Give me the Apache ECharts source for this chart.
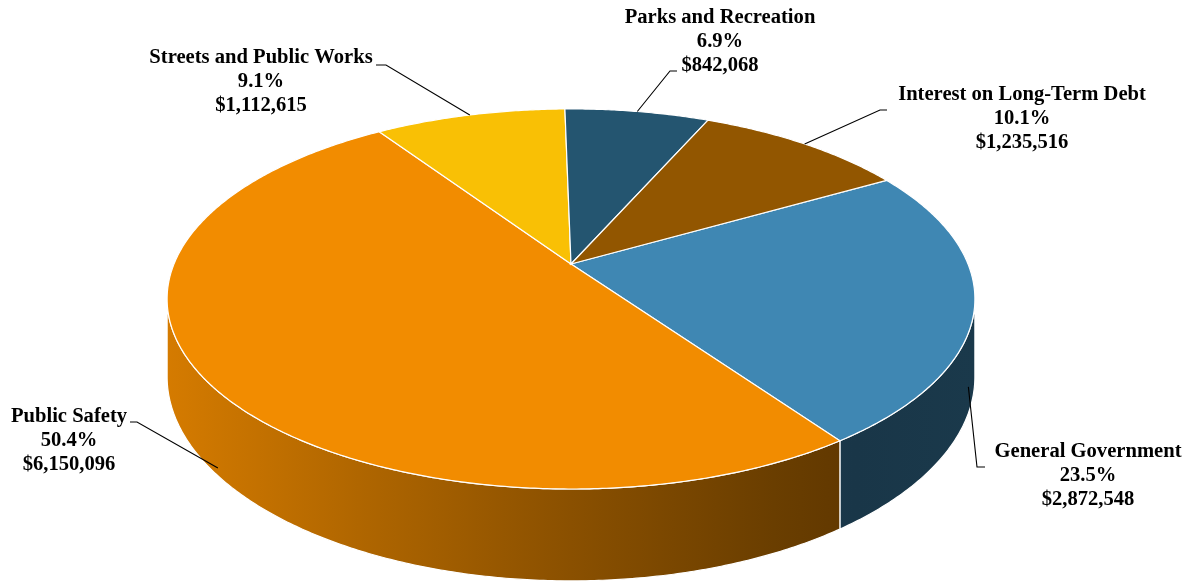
<!DOCTYPE html>
<html><head><meta charset="utf-8">
<script src="https://cdn.jsdelivr.net/npm/echarts@6/dist/echarts.min.js"></script>
<style>html,body{margin:0;padding:0;background:#fff}#c{width:1193px;height:582px}</style>
</head><body><div id="c"></div><script>
// ---- data ----
const categories = ['General Government', 'Public Safety', 'Streets and Public Works', 'Parks and Recreation', 'Interest on Long-Term Debt'];
const values = [2872548, 6150096, 1112615, 842068, 1235516];
// ---- style / layout ----
const colors = ['#3f87b3', '#f28c00', '#f9c005', '#245570', '#925600'];
const startAngle = 60.2; // degrees clockwise from 12 o'clock
const G = { cx: 571, cy: 264, A: 397, B: 183.6, k: 0.184, H: 75 };
const labelPos = [[1088, 452], [69, 417], [261, 58], [720, 18], [1022, 95]];
const attachPt = [[985, 467], [130, 422], [376, 65], [677, 71], [887, 110]];
const elbowPt = [[977, 467], [137, 422], [386, 65], [670, 71], [880, 110]];
const anchorRF = [[0.985, 1.05], [0.97, 1.1], [1, 0], [1, 0], [1, 0]];

const total = values.reduce((a, b) => a + b, 0);
const angles = [];
(function () {
  let a = startAngle;
  values.forEach(v => { const s = v / total * 360; angles.push([a, a + s]); a += s; });
})();

function proj(deg, r, f) {
  const t = deg * Math.PI / 180;
  const u = r * Math.sin(t), v = -r * Math.cos(t);
  const d = 1 - G.k * v;
  return [G.cx + G.A * u / d, G.cy + G.B * v / d + f * G.H / d];
}
function arc(a, b, r, f) {
  const n = Math.max(2, Math.ceil(Math.abs(b - a) / 0.5));
  const pts = [];
  for (let i = 0; i <= n; i++) pts.push(proj(a + (b - a) * i / n, r, f));
  return pts;
}
function shade(hex, f) {
  const n = parseInt(hex.slice(1), 16);
  const r = Math.round(((n >> 16) & 255) * f), g = Math.round(((n >> 8) & 255) * f), b = Math.round((n & 255) * f);
  return 'rgb(' + r + ',' + g + ',' + b + ')';
}
const frontA = Math.acos(-G.k) * 180 / Math.PI, frontB = 360 - frontA;
const lightStops = [[0, 0.88], [0.25, 0.72], [0.5, 0.57], [0.75, 0.44], [0.85, 0.40], [1, 0.42]];

function renderWall(params, api) {
  const i = params.dataIndex;
  const [a0, a1] = angles[i];
  const children = [];
  [-360, 0, 360].forEach(sh => {
    const a = Math.max(a0 + sh, frontA), b = Math.min(a1 + sh, frontB);
    if (b > a) {
      const pts = arc(a, b, 1, 0).concat(arc(b, a, 1, 1));
      children.push({
        type: 'polygon', shape: { points: pts },
        style: {
          fill: { type: 'linear', x: G.cx - G.A * 1.02, y: 0, x2: G.cx + G.A * 1.02, y2: 0, global: true,
            colorStops: lightStops.map(s => ({ offset: s[0], color: shade(colors[i], s[1]) })) },
          stroke: '#ffffff', lineWidth: 1.2
        }
      });
    }
  });
  return { type: 'group', children };
}
function renderTop(params, api) {
  const i = params.dataIndex;
  const [a0, a1] = angles[i];
  const pts = [proj(0, 0, 0)].concat(arc(a0, a1, 1, 0));
  return { type: 'polygon', shape: { points: pts }, style: { fill: colors[i], stroke: '#ffffff', lineWidth: 1.2 } };
}
function renderLabel(params, api) {
  const i = params.dataIndex;
  const mid = (angles[i][0] + angles[i][1]) / 2;
  const anc = proj(mid, anchorRF[i][0], anchorRF[i][1]);
  const pct = (values[i] / total * 100).toFixed(1) + '%';
  const money = '$' + values[i].toLocaleString('en-US');
  return {
    type: 'group', children: [
      { type: 'polyline', shape: { points: [attachPt[i], elbowPt[i], anc] }, style: { stroke: '#000', lineWidth: 1.1, fill: null } },
      { type: 'text', x: labelPos[i][0], y: labelPos[i][1] - 12,
        style: { text: categories[i] + '\n' + pct + '\n' + money, fill: '#000', fontFamily: '"Liberation Serif", "Times New Roman", serif',
          fontWeight: 'bold', fontSize: 20.6, lineHeight: 24, align: 'center', verticalAlign: 'top' } }
    ]
  };
}
const chart = echarts.init(document.getElementById('c'), null, { renderer: 'canvas' });
chart.setOption({
  backgroundColor: '#ffffff',
  animation: false,
  series: [
    { type: 'custom', coordinateSystem: 'none', renderItem: renderWall, data: values, z: 1, silent: true },
    { type: 'custom', coordinateSystem: 'none', renderItem: renderTop, data: values, z: 2, silent: true },
    { type: 'custom', coordinateSystem: 'none', renderItem: renderLabel, data: values, z: 3, silent: true }
  ]
});
</script></body></html>
